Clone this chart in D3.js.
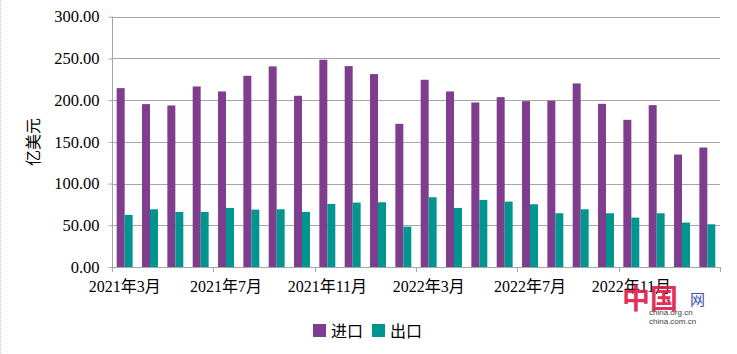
<!DOCTYPE html>
<html>
<head>
<meta charset="utf-8">
<script src="https://cdn.jsdelivr.net/npm/d3@7"></script>
<style>
  html, body { margin: 0; padding: 0; background: #fff; }
  svg { display: block; }
</style>
</head>
<body>
<svg id="chart" width="737" height="354"></svg>
<script>
const months = ["2021年3月","2021年4月","2021年5月","2021年6月","2021年7月","2021年8月","2021年9月","2021年10月",
  "2021年11月","2021年12月","2022年1月","2022年2月","2022年3月","2022年4月","2022年5月","2022年6月",
  "2022年7月","2022年8月","2022年9月","2022年10月","2022年11月","2022年12月","2023年1月","2023年2月"];
const seriesNames = ["进口","出口"];
const imports = [214.4,195.2,193.6,216.4,210.4,229.2,240.4,205.2,248.4,240.8,231.2,171.6,
  224.4,210.4,197.2,203.6,198.8,199.2,220.0,195.6,176.4,194.0,134.8,143.2];
const exports = [62.4,69.2,66.0,66.0,70.8,68.8,69.2,66.0,75.6,77.2,77.6,48.4,
  83.6,70.8,80.4,78.4,75.2,64.4,69.2,64.4,59.2,64.4,53.2,51.2];
const yTicks = [0,50,100,150,200,250,300];
const yTitle = "亿美元";
const colors = ["#7e3d8d","#00968f"];

const serif = "'Liberation Serif', 'Times New Roman', 'Noto Sans CJK SC', serif";
const svg = d3.select("#chart");
const pLeft = 112, pRight = 720, pTop = 16.7, pBottom = 267;

const x0 = d3.scaleBand().domain(months).range([pLeft, pRight]).padding(0);
const bw = x0.bandwidth();
const groupW = bw * 0.63;
const x1 = d3.scaleBand().domain(seriesNames).range([(bw - groupW) / 2, (bw + groupW) / 2]).padding(0);
const y = d3.scaleLinear().domain([0, 300]).range([pBottom, pTop]);

// faint dotted frame at left edge
svg.append("line").attr("x1", 0.5).attr("x2", 0.5).attr("y1", 0).attr("y2", 354)
  .attr("stroke", "#c8c8c8").attr("stroke-dasharray", "1,1");

// gridlines
svg.append("g").selectAll("line").data(yTicks.filter(d => d > 0)).join("line")
  .attr("x1", pLeft).attr("x2", pRight)
  .attr("y1", d => Math.round(y(d)) + 0.5).attr("y2", d => Math.round(y(d)) + 0.5)
  .attr("stroke", "#a6a6a6").attr("stroke-width", 1);

// bars
const data = months.map((m, i) => ({ m, vals: [imports[i], exports[i]] }));
const groups = svg.append("g").selectAll("g").data(data).join("g")
  .attr("transform", d => `translate(${x0(d.m)},0)`);
groups.selectAll("rect").data(d => d.vals.map((v, j) => ({ s: seriesNames[j], v, j }))).join("rect")
  .attr("x", d => x1(d.s))
  .attr("width", x1.bandwidth())
  .attr("y", d => y(d.v))
  .attr("height", d => y(0) - y(d.v))
  .attr("fill", d => colors[d.j]);

// y axis
const yAxis = d3.axisLeft(y).tickValues(yTicks).tickFormat(d3.format(".2f")).tickSize(4).tickPadding(9);
const gy = svg.append("g").attr("transform", `translate(${pLeft + 0.5},0)`).call(yAxis);
gy.attr("font-family", serif);
gy.select(".domain").attr("stroke", "#a6a6a6").attr("d", `M0,${pTop}V${pBottom}`);
gy.selectAll(".tick line").attr("stroke", "#a6a6a6");
gy.selectAll(".tick text").attr("font-family", serif).attr("font-size", 16.5).attr("fill", "#000");

// x axis line
svg.append("line").attr("x1", pLeft).attr("x2", pRight)
  .attr("y1", pBottom + 0.5).attr("y2", pBottom + 0.5).attr("stroke", "#a6a6a6");

// x ticks at every 4th category boundary
const tickIdx = d3.range(0, months.length + 1, 4);
svg.append("g").selectAll("line").data(tickIdx).join("line")
  .attr("x1", i => Math.round(i < months.length ? x0(months[i]) : pRight) + 0.5)
  .attr("x2", i => Math.round(i < months.length ? x0(months[i]) : pRight) + 0.5)
  .attr("y1", pBottom).attr("y2", pBottom + 5)
  .attr("stroke", "#a6a6a6");

// x labels at every 4th category center
const xAxis = d3.axisBottom(x0).tickValues(months.filter((m, i) => i % 4 === 0)).tickSize(0).tickPadding(14);
const gx = svg.append("g").attr("transform", `translate(0,${pBottom})`).call(xAxis);
gx.attr("font-family", serif);
gx.select(".domain").remove();
gx.selectAll(".tick text").attr("font-family", serif).attr("font-size", 16).attr("fill", "#000");

// y title
svg.append("text")
  .attr("transform", `translate(39,142) rotate(-90)`)
  .attr("text-anchor", "middle")
  .attr("font-family", "Noto Sans CJK SC, sans-serif")
  .attr("font-size", 16).attr("fill", "#000")
  .text(yTitle);

// legend
const legend = svg.append("g");
const legItems = [{ name: seriesNames[0], x: 313 }, { name: seriesNames[1], x: 372 }];
legItems.forEach((d, i) => {
  legend.append("rect").attr("x", d.x).attr("y", 324).attr("width", 13).attr("height", 13).attr("fill", colors[i]);
  legend.append("text").attr("x", d.x + 18).attr("y", 336.5)
    .attr("font-family", "Noto Sans CJK SC, sans-serif").attr("font-size", 16).attr("fill", "#000")
    .text(d.name);
});

// watermark (china.org.cn)
const wm = svg.append("g");
wm.append("text").attr("x", 622).attr("y", 309).attr("font-family", "Noto Sans CJK SC, sans-serif")
  .attr("font-weight", "bold").attr("font-size", 28).attr("fill", "#e0204a").attr("opacity", 0.92).text("中国");
wm.append("text").attr("x", 690).attr("y", 305).attr("font-family", "Noto Sans CJK SC, sans-serif")
  .attr("font-size", 15).attr("fill", "#3a55b0").text("网");
wm.append("text").attr("x", 649).attr("y", 315).attr("font-family", "Liberation Sans, Arial, sans-serif")
  .attr("font-size", 8).attr("fill", "#444").text("china.org.cn");
wm.append("text").attr("x", 649).attr("y", 324).attr("font-family", "Liberation Sans, Arial, sans-serif")
  .attr("font-size", 8).attr("fill", "#444").text("china.com.cn");
</script>
</body>
</html>
